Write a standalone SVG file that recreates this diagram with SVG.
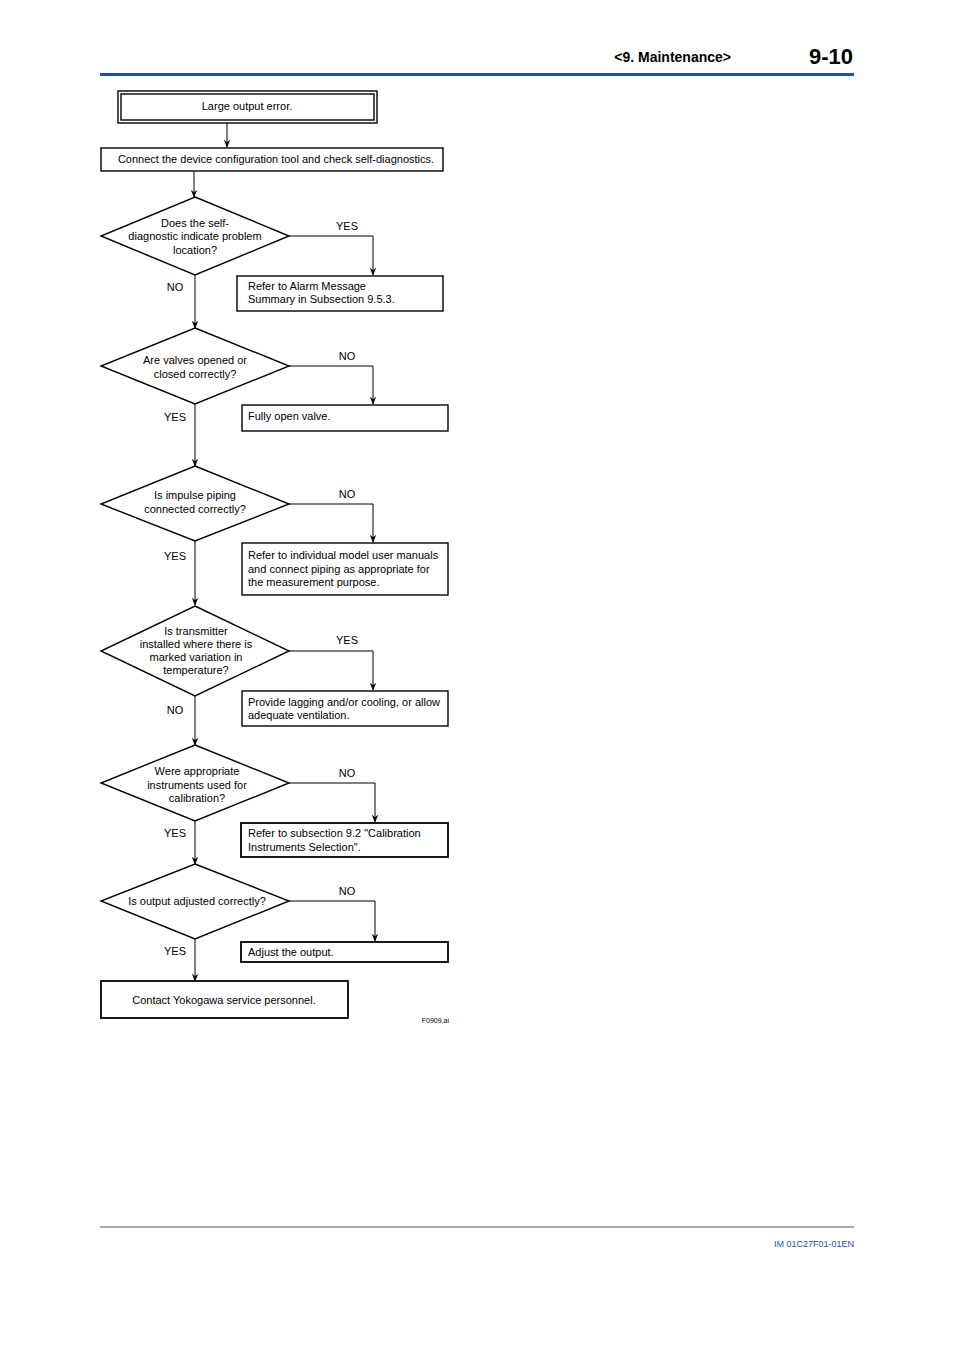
<svg xmlns="http://www.w3.org/2000/svg" width="954" height="1350" viewBox="0 0 954 1350">
<style>
text{font-family:"Liberation Sans",Arial,sans-serif;font-size:11px;fill:#000}
.c{text-anchor:middle}
.b{fill:#fff;stroke:#000;stroke-width:1.4}
.l{fill:none;stroke:#000;stroke-width:1}
</style>
<defs><marker id="a" markerWidth="8" markerHeight="10" refX="4" refY="9" orient="auto" markerUnits="userSpaceOnUse"><path d="M0,0 L4,9 L8,0 L4,3 Z" transform="rotate(-90 4 4.5) translate(0 0)" fill="#000"/></marker>
<marker id="d" markerWidth="8" markerHeight="10" refX="9" refY="4" orient="auto" markerUnits="userSpaceOnUse" viewBox="0 0 10 8"><path d="M0,0 L10,4 L0,8 L3,4 Z" fill="#000"/></marker></defs>
<rect width="954" height="1350" fill="#fff"/>
<g id="header">
<text x="731" y="62" text-anchor="end" style="font-size:14px;font-weight:bold">&lt;9.  Maintenance&gt;</text>
<text x="853" y="64" text-anchor="end" style="font-size:22px;font-weight:bold">9-10</text>
<rect x="100" y="73" width="754" height="3" fill="#1f4fa8"/>
</g>
<g id="connectors" class="l" marker-end="url(#d)">
<path d="M227,123V147"/>
<path d="M194,171V197"/>
<path d="M289,236H373V275"/>
<path d="M195,275V328"/>
<path d="M289,366H373V404"/>
<path d="M195,404V466"/>
<path d="M289,504H373V542"/>
<path d="M195,541V605"/>
<path d="M289,651H373V690"/>
<path d="M195,696V745"/>
<path d="M289,783H375V822"/>
<path d="M195,821V864"/>
<path d="M289,901H375V941"/>
<path d="M195,939V981"/>
</g>
<g id="labels">
<text x="347" y="230" class="c">YES</text><text x="175" y="291" class="c">NO</text>
<text x="347" y="360" class="c">NO</text><text x="175" y="421" class="c">YES</text>
<text x="347" y="498" class="c">NO</text><text x="175" y="560" class="c">YES</text>
<text x="347" y="644" class="c">YES</text><text x="175" y="714" class="c">NO</text>
<text x="347" y="777" class="c">NO</text><text x="175" y="837" class="c">YES</text>
<text x="347" y="895" class="c">NO</text><text x="175" y="955" class="c">YES</text>
</g>
<g id="start"><rect x="118" y="91" width="259" height="32" class="b"/><rect x="121" y="94" width="253" height="26" class="b"/><text x="247" y="110" class="c">Large output error.</text></g>
<g id="connect"><rect x="101" y="148" width="342" height="23" class="b"/><text x="276" y="163" class="c">Connect the device configuration tool and check self-diagnostics.</text></g>
<g id="q1"><path d="M195,197L289,236L195,275L101,236Z" class="b"/><text class="c" x="195" y="227">Does the self-</text><text class="c" x="195" y="240">diagnostic indicate problem</text><text class="c" x="195" y="254">location?</text></g>
<g id="r1"><rect x="237" y="276" width="206" height="35" class="b"/><text x="248" y="290">Refer to Alarm Message</text><text x="248" y="303">Summary in Subsection 9.5.3.</text></g>
<g id="q2"><path d="M195,328L289,366L195,404L101,366Z" class="b"/><text class="c" x="195" y="364">Are valves opened or</text><text class="c" x="195" y="378">closed correctly?</text></g>
<g id="r2"><rect x="242" y="405" width="206" height="26" class="b"/><text x="248" y="420">Fully open valve.</text></g>
<g id="q3"><path d="M195,466L289,504L195,541L101,504Z" class="b"/><text class="c" x="195" y="499">Is impulse piping</text><text class="c" x="195" y="513">connected correctly?</text></g>
<g id="r3"><rect x="242" y="543" width="206" height="52" class="b"/><text x="248" y="559">Refer to individual model user manuals</text><text x="248" y="573">and connect piping as appropriate for</text><text x="248" y="586">the measurement purpose.</text></g>
<g id="q4"><path d="M195,606L289,651L195,696L101,651Z" class="b"/><text class="c" x="196" y="635">Is transmitter</text><text class="c" x="196" y="648">installed where there is</text><text class="c" x="196" y="661">marked variation in</text><text class="c" x="196" y="674">temperature?</text></g>
<g id="r4"><rect x="242" y="691" width="206" height="35" class="b"/><text x="248" y="706">Provide lagging and/or cooling, or allow</text><text x="248" y="719">adequate ventilation.</text></g>
<g id="q5"><path d="M195,745L289,783L195,821L101,783Z" class="b"/><text class="c" x="197" y="775">Were appropriate</text><text class="c" x="197" y="789">instruments used for</text><text class="c" x="197" y="802">calibration?</text></g>
<g id="r5"><rect x="241" y="823" width="207" height="34" class="b" style="stroke-width:1.8"/><text x="248" y="837">Refer to subsection 9.2 "Calibration</text><text x="248" y="851">Instruments Selection".</text></g>
<g id="q6"><path d="M195,864L289,901L195,939L101,901Z" class="b"/><text class="c" x="197" y="905">Is output adjusted correctly?</text></g>
<g id="r6"><rect x="241" y="942" width="207" height="20" class="b" style="stroke-width:1.8"/><text x="248" y="956">Adjust the output.</text></g>
<g id="end"><rect x="101" y="981" width="247" height="37" class="b" style="stroke-width:1.8"/><text x="224" y="1004" class="c">Contact Yokogawa service personnel.</text></g>
<text x="449" y="1023" text-anchor="end" style="font-size:7px">F0909.ai</text>
<g id="footer"><rect x="100" y="1226.5" width="754" height="1" fill="#555"/><text x="854" y="1247" text-anchor="end" style="font-size:9px;fill:#1f4fa8">IM 01C27F01-01EN</text></g>
</svg>
